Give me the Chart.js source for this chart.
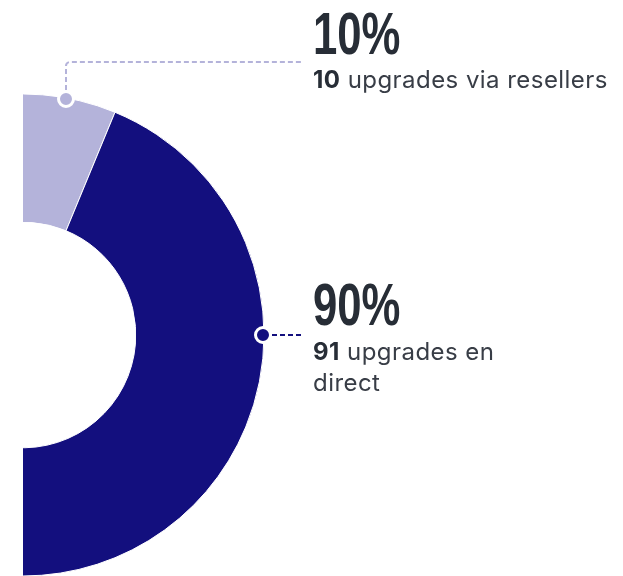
<!DOCTYPE html>
<html>
<head>
<meta charset="utf-8">
<script src="https://cdn.jsdelivr.net/npm/chart.js@4.4.1/dist/chart.umd.min.js"></script>
<style>
  html, body { margin: 0; padding: 0; background: #ffffff; width: 623px; height: 576px; overflow: hidden; }
  #wrap { position: absolute; left: 23px; top: 0; width: 600px; height: 576px; overflow: hidden; }
  #holder { position: absolute; left: -242px; top: 0; width: 842px; height: 670px; }
  .lbl { position: absolute; left: 313px; color: #272d36; }
  .big { font-family: "Liberation Sans", Arial, sans-serif; font-weight: 700;
         font-size: 59px; line-height: 59px; transform: scaleX(0.74); transform-origin: left top; white-space: nowrap; }
  .sub { font-family: Inter, "Noto Sans", sans-serif; font-size: 24px; line-height: 31px; color: #383d46; letter-spacing: 0.45px; }
  .sub b { font-weight: 700; color: #272d36; }
</style>
</head>
<body>
<div id="wrap"><div id="holder"><canvas id="c"></canvas></div></div>

<div class="lbl big" id="p1" style="top:5px">10%</div>
<div class="lbl sub" id="s1" style="top:64px; white-space:nowrap"><b>10</b> upgrades via resellers</div>
<div class="lbl big" id="p2" style="top:276px">90%</div>
<div class="lbl sub" id="s2" style="top:336px; width:225px"><b>91</b> upgrades en direct</div>

<script>
// ---- data ----
const categories = ["via resellers", "en direct"];
const upgradeCounts = [10, 91];
const percentLabels = ["10%", "90%"];
const sliceColors = ["#b4b3da", "#130f7e"];

// ---- layout constants (page px) ----
const PAGE_OFFSET_X = 23 - 242;   // canvas x -> page x
const LEADER_END_X = 303;          // page x where leaders stop
const TOP_LEADER_Y = 62;           // page y of horizontal top leader
const anchorAngles = [10.2, 90];   // degrees clockwise from top

const leaderPlugin = {
  id: 'leaders',
  beforeDatasetsDraw(chart) {
    const ctx = chart.ctx;
    ctx.save();
    ctx.beginPath();
    ctx.rect(-PAGE_OFFSET_X, 0, chart.width, chart.height);
    ctx.clip();
  },
  afterDatasetsDraw(chart) {
    const ctx = chart.ctx;
    ctx.restore();
    const meta = chart.getDatasetMeta(0);
    const arc = meta.data[0];
    const {x: cx, y: cy, outerRadius} = arc.getProps(['x', 'y', 'outerRadius'], true);
    const endX = LEADER_END_X - PAGE_OFFSET_X;
    anchorAngles.forEach((deg, i) => {
      const a = deg * Math.PI / 180;
      const r = outerRadius - 1;
      const px = Math.round(cx + r * Math.sin(a));
      const py = Math.round(cy - r * Math.cos(a));
      ctx.save();
      ctx.setLineDash([5, 3]);
      ctx.lineWidth = 2;
      ctx.strokeStyle = sliceColors[i];
      ctx.beginPath();
      if (i === 0) {
        const rad = 4;
        ctx.moveTo(px, py - 9);
        ctx.lineTo(px, TOP_LEADER_Y + rad);
        ctx.arcTo(px, TOP_LEADER_Y, px + rad, TOP_LEADER_Y, rad);
        ctx.lineTo(endX, TOP_LEADER_Y);
      } else {
        ctx.moveTo(px + 9, py);
        ctx.lineTo(endX, py);
      }
      ctx.stroke();
      ctx.restore();
      ctx.save();
      ctx.beginPath();
      ctx.arc(px, py, 7.5, 0, Math.PI * 2);
      ctx.fillStyle = sliceColors[i];
      ctx.fill();
      ctx.lineWidth = 3;
      ctx.strokeStyle = '#ffffff';
      ctx.stroke();
      ctx.restore();
    });
  }
};

new Chart(document.getElementById('c'), {
  type: 'doughnut',
  data: {
    labels: categories,
    datasets: [{
      data: upgradeCounts,
      backgroundColor: sliceColors,
      borderColor: '#ffffff',
      borderWidth: 1,
      hoverOffset: 0
    }]
  },
  options: {
    responsive: true,
    maintainAspectRatio: false,
    animation: false,
    rotation: -13.2,
    circumference: 360,
    radius: 241,
    cutout: 113,
    layout: { padding: { left: 0, right: 358, top: 0, bottom: 0 } },
    plugins: { legend: { display: false }, tooltip: { enabled: false } },
    events: []
  },
  plugins: [leaderPlugin]
});
</script>
</body>
</html>
